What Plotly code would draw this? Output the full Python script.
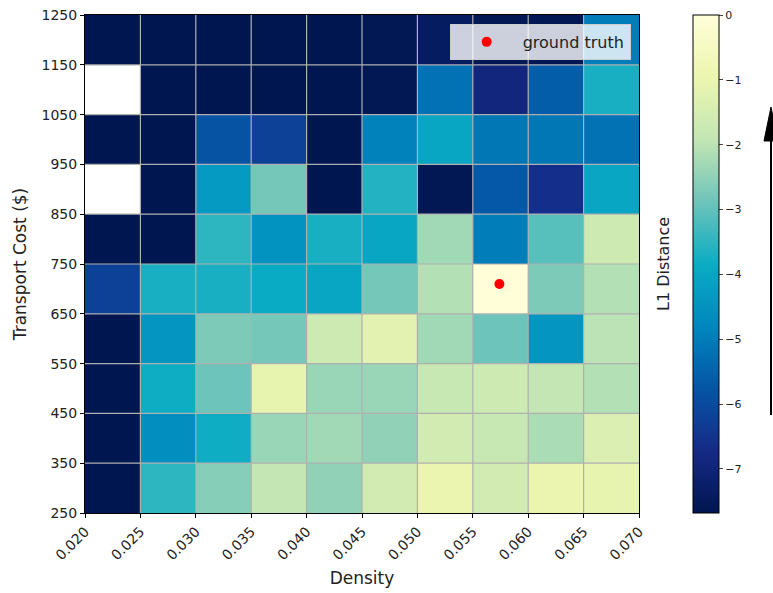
import plotly.graph_objects as go

# Grid cell edges
density_edges = [0.020, 0.025, 0.030, 0.035, 0.040, 0.045, 0.050, 0.055, 0.060, 0.065, 0.070]
cost_edges = [250, 350, 450, 550, 650, 750, 850, 950, 1050, 1150, 1250]

# Negative L1 distance per cell, rows listed from cost 300 (bottom) to 1200 (top)
nan = None
row_300 = [-7.7, -3.5, -2.6, -1.9, -2.5, -1.6, -1.0, -1.6, -1.0, -1.1]
row_400 = [-7.7, -4.6, -3.8, -2.4, -2.3, -2.5, -1.6, -1.8, -2.2, -1.4]
row_500 = [-7.7, -3.8, -2.9, -1.1, -2.4, -2.4, -1.8, -1.7, -1.9, -2.1]
row_600 = [-7.7, -4.4, -2.7, -2.8, -1.7, -1.2, -2.3, -2.9, -4.4, -2.0]
row_700 = [-6.2, -3.7, -3.7, -3.9, -4.0, -2.8, -2.1, 0.0, -2.7, -2.1]
row_800 = [-7.7, -7.7, -3.5, -4.5, -3.7, -4.0, -2.3, -5.0, -3.1, -1.7]
row_900 = [nan, -7.7, -4.3, -2.8, -7.7, -3.6, -7.6, -5.7, -6.6, -4.0]
row_1000 = [-7.7, -7.7, -5.8, -6.2, -7.7, -4.9, -4.0, -5.1, -5.1, -5.2]
row_1100 = [nan, -7.7, -7.7, -7.7, -7.7, -7.6, -5.2, -6.9, -5.6, -3.7]
row_1200 = [-7.7, -7.7, -7.7, -7.7, -7.7, -7.6, -7.4, -7.6, -7.6, -5.0]
l1_rows = [row_300, row_400, row_500, row_600, row_700,
           row_800, row_900, row_1000, row_1100, row_1200]

# Ground truth parameters
truth_density = [0.0574]
truth_cost = [710]

z_min, z_max = -7.68, 0.0
cbar_ticks = [0, -1, -2, -3, -4, -5, -6, -7]

ylgnbu_r = [
    [0.000, "rgb(0,22,80)"],
    [0.125, "rgb(22,42,135)"],
    [0.250, "rgb(5,85,165)"],
    [0.375, "rgb(0,135,190)"],
    [0.500, "rgb(10,172,195)"],
    [0.625, "rgb(110,196,186)"],
    [0.750, "rgb(195,230,180)"],
    [0.875, "rgb(237,246,175)"],
    [1.000, "rgb(255,254,217)"],
]

# Plot-area geometry in pixels
L, R, T, B = 85, 134, 15, 80
PW, PH = 773 - L - R, 593 - T - B


def px_x(px):
    return (px - L) / PW


def px_y(py):
    return (593 - B - py) / PH


fig = go.Figure()
fig.add_trace(go.Heatmap(
    x=density_edges, y=cost_edges, z=l1_rows,
    zmin=z_min, zmax=z_max, colorscale=ylgnbu_r,
    showlegend=False, hoverongaps=False,
    colorbar=dict(
        x=px_x(693), xanchor="left", xref="paper", xpad=0, ypad=0,
        y=0.5, yanchor="middle", len=1.0, lenmode="fraction",
        thickness=26, thicknessmode="pixels",
        outlinecolor="black", outlinewidth=1,
        tickvals=cbar_ticks, ticks="outside", ticklen=4,
        tickfont=dict(family="DejaVu Sans", size=11, color="#222"),
    ),
))
fig.add_trace(go.Scatter(
    x=truth_density, y=truth_cost, mode="markers",
    marker=dict(color="red", size=10), name="ground truth",
))

# Grid lines on top of the cells
grid_color = "#b0b0b0"
shapes = []
for d in density_edges[1:-1]:
    shapes.append(dict(type="line", xref="x", yref="paper", x0=d, x1=d, y0=0, y1=1,
                       line=dict(color=grid_color, width=1.2), layer="above"))
for c in cost_edges[1:-1]:
    shapes.append(dict(type="line", xref="paper", yref="y", x0=0, x1=1, y0=c, y1=c,
                       line=dict(color=grid_color, width=1.2), layer="above"))

# Upward arrow at the right edge
ax_x = px_x(771)
shapes.append(dict(type="line", xref="paper", yref="paper",
                   x0=ax_x, x1=ax_x, y0=px_y(415), y1=px_y(132),
                   line=dict(color="black", width=2)))
shapes.append(dict(type="path", xref="paper", yref="paper",
                   path=f"M {px_x(764)} {px_y(141)} L {ax_x} {px_y(107)} L {px_x(778)} {px_y(141)} Z",
                   fillcolor="black", line=dict(color="black", width=1)))

fig.update_layout(
    width=773, height=593,
    margin=dict(l=L, r=R, t=T, b=B, autoexpand=False),
    paper_bgcolor="white", plot_bgcolor="white",
    font=dict(family="DejaVu Sans", size=14, color="#222"),
    shapes=shapes,
    showlegend=True,
    legend=dict(
        x=0.985, y=0.982, xanchor="right", yanchor="top",
        bgcolor="rgba(255,255,255,0.8)", bordercolor="#cccccc", borderwidth=1,
        font=dict(size=16, color="#222"), itemwidth=62,
    ),
    annotations=[dict(
        text="L1 Distance", xref="paper", yref="paper",
        x=px_x(663), y=0.5, xanchor="center", yanchor="middle",
        textangle=-90, showarrow=False,
        font=dict(size=16, color="#222"),
    )],
)
fig.update_xaxes(
    range=[0.020, 0.070], tickvals=density_edges, tickformat=".3f", tickangle=-45,
    ticks="outside", ticklen=4, tickcolor="black",
    showline=True, linecolor="black", linewidth=1, mirror=True,
    showgrid=False, zeroline=False, automargin=False,
    title=dict(text="Density", font=dict(size=17), standoff=9),
    tickfont=dict(size=14),
)
fig.update_yaxes(
    range=[250, 1250], tickvals=cost_edges,
    ticks="outside", ticklen=4, tickcolor="black",
    showline=True, linecolor="black", linewidth=1, mirror=True,
    showgrid=False, zeroline=False, automargin=False,
    title=dict(text="Transport Cost ($)", font=dict(size=17), standoff=10),
    tickfont=dict(size=14),
)

fig.write_html("out.html")
